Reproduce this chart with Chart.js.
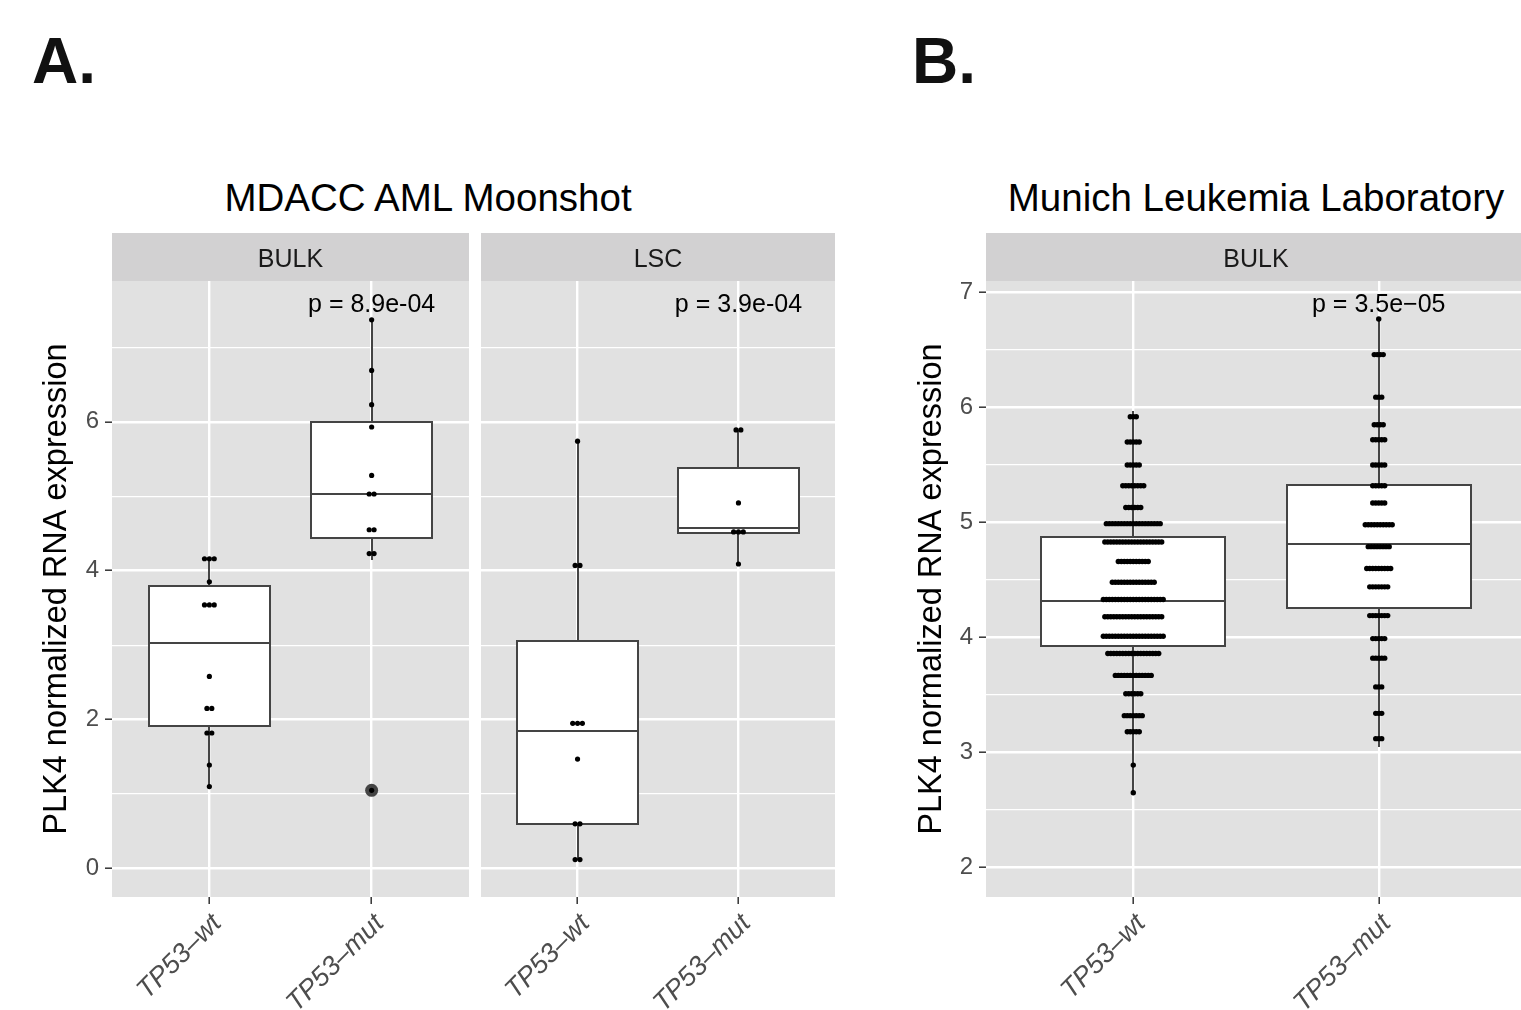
<!DOCTYPE html>
<html>
<head>
<meta charset="utf-8">
<script src="https://cdn.jsdelivr.net/npm/chart.js@4.4.1/dist/chart.umd.min.js"></script>
<style>
  html, body { margin: 0; padding: 0; background: #fff; }
  body { width: 1521px; height: 1010px; position: relative; overflow: hidden;
         font-family: "Liberation Sans", Arial, sans-serif; }
  .tag { position: absolute; font-weight: bold; font-size: 64px; line-height: 64px; color: #111; }
  .title { position: absolute; font-size: 38.5px; line-height: 38.5px; color: #000;
           white-space: nowrap; transform: translateX(-50%); }
  canvas { position: absolute; }
</style>
</head>
<body>
<div class="tag" style="left:32px;top:29px">A.</div>
<div class="tag" style="left:912px;top:29px">B.</div>
<div class="title" style="left:428px;top:179px">MDACC AML Moonshot</div>
<div class="title" style="left:1256px;top:179px">Munich Leukemia Laboratory</div>
<canvas id="bulkA" width="470" height="777" style="left:0;top:233px"></canvas>
<canvas id="lscA" width="366" height="777" style="left:470px;top:233px"></canvas>
<canvas id="bulkB" width="687" height="777" style="left:840px;top:233px"></canvas>

<script>
const groups = ['TP53–wt', 'TP53–mut'];

// dot rows: [value, number of dots in the row]
const bulkWtDots  = [[4.16, 3], [3.85, 1], [3.54, 3], [2.58, 1], [2.15, 2], [1.82, 2], [1.39, 1], [1.10, 1]];
const bulkMutDots = [[7.37, 1], [6.69, 1], [6.23, 1], [5.93, 1], [5.28, 1], [5.03, 2], [4.55, 2], [4.23, 2], [1.05, 1]];
const lscWtDots   = [[5.74, 1], [4.07, 2], [1.95, 3], [1.47, 1], [0.60, 2], [0.12, 2]];
const lscMutDots  = [[5.89, 2], [4.91, 1], [4.52, 3], [4.09, 1]];
const mllWtDots   = [[5.92, 3], [5.70, 5], [5.50, 5], [5.32, 8], [5.13, 6], [4.99, 19], [4.83, 20], [4.66, 11],
                     [4.48, 15], [4.33, 21], [4.18, 20], [4.01, 21], [3.86, 18], [3.67, 13], [3.51, 6], [3.32, 7],
                     [3.18, 5], [2.89, 1], [2.65, 1]];
const mllMutDots  = [[6.77, 1], [6.46, 4], [6.09, 3], [5.85, 4], [5.72, 5], [5.50, 5], [5.32, 5], [5.17, 5],
                     [4.98, 10], [4.79, 8], [4.60, 9], [4.44, 7], [4.19, 7], [3.99, 5], [3.82, 5], [3.57, 3],
                     [3.34, 3], [3.12, 3]];

// box stats: [lower whisker, q1, median, q3, upper whisker]
const bulkWtBox  = [1.10, 1.92, 3.03, 3.80, 4.16];
const bulkMutBox = [4.15, 4.44, 5.03, 6.00, 7.37];
const lscWtBox   = [0.12, 0.60, 1.84, 3.06, 5.74];
const lscMutBox  = [4.09, 4.51, 4.57, 5.38, 5.89];
const mllWtBox   = [2.63, 3.93, 4.32, 4.87, 5.97];
const mllMutBox  = [3.05, 4.26, 4.81, 5.33, 6.77];

const bulkMutOutliers = [1.05];

const pBulkA = 'p = 8.9e-04';
const pLscA  = 'p = 3.9e-04';
const pBulkB = 'p = 3.5e−05';

const yTicksA = [0, 1, 2, 3, 4, 5, 6, 7];
const yTicksB = [2, 2.5, 3, 3.5, 4, 4.5, 5, 5.5, 6, 6.5, 7];

Chart.defaults.font.family = '"Liberation Sans", Arial, sans-serif';
Chart.defaults.animation = false;

function panelPlugin(cfg) {
    return {
        id: 'panel_' + cfg.id,
        beforeDraw(chart) {
            const {ctx, chartArea: a} = chart;
            ctx.save();
            ctx.fillStyle = '#e1e1e1';
            ctx.fillRect(a.left, a.top, a.right - a.left, a.bottom - a.top);
            // facet strip
            ctx.fillStyle = '#d2d1d2';
            ctx.fillRect(a.left, a.top - 48, a.right - a.left, 48);
            ctx.fillStyle = '#1a1a1a';
            ctx.font = '25px "Liberation Sans", Arial, sans-serif';
            ctx.textAlign = 'center';
            ctx.textBaseline = 'alphabetic';
            ctx.fillText(cfg.strip, (a.left + a.right) / 2, a.top - 14.5);
            ctx.restore();
        },
        beforeDatasetsDraw(chart) {
            const {ctx} = chart;
            const x = chart.scales.x, y = chart.scales.y;
            const px = v => Math.round(x.getPixelForValue(v));
            const py = v => Math.round(y.getPixelForValue(v));
            ctx.save();
            ctx.strokeStyle = '#444';
            ctx.lineWidth = 2;
            cfg.boxes.forEach((b, i) => {
                const [lo, q1, med, q3, hi] = b;
                const cx = px(i + 1);
                const l = px(i + 1 - 0.375);
                const r = px(i + 1 + 0.375);
                const top = py(q3), bot = py(q1);
                ctx.beginPath();
                ctx.moveTo(cx, py(hi));
                ctx.lineTo(cx, top);
                ctx.moveTo(cx, bot);
                ctx.lineTo(cx, py(lo));
                ctx.stroke();
                ctx.fillStyle = '#fff';
                ctx.fillRect(l, top, r - l, bot - top);
                ctx.strokeRect(l, top, r - l, bot - top);
                const m = py(med);
                ctx.beginPath();
                ctx.moveTo(l, m);
                ctx.lineTo(r, m);
                ctx.stroke();
            });
            ctx.restore();
        },
        afterDatasetsDraw(chart) {
            const {ctx, chartArea: a} = chart;
            ctx.save();
            ctx.fillStyle = '#000';
            ctx.font = '25px "Liberation Sans", Arial, sans-serif';
            ctx.textAlign = 'center';
            ctx.textBaseline = 'alphabetic';
            ctx.fillText(cfg.pLabel, chart.scales.x.getPixelForValue(2), a.top + 31);
            ctx.restore();
        }
    };
}

function makePanel(cfg) {
    const points = [];
    cfg.dots.forEach((rows, g) => rows.forEach(([v, n]) => {
        for (let k = 0; k < n; k++) {
            points.push({x: g + 1 + (k - (n - 1) / 2) * cfg.dotStep, y: v});
        }
    }));
    const outliers = [];
    cfg.outliers.forEach((vals, g) => vals.forEach(v => outliers.push({x: g + 1, y: v})));

    const isMajor = v => Math.abs(v / cfg.major - Math.round(v / cfg.major)) < 1e-6;

    new Chart(document.getElementById(cfg.id), {
        type: 'scatter',
        data: {
            datasets: [
                {data: points, pointRadius: cfg.dotRadius, backgroundColor: '#000', borderWidth: 0},
                {data: outliers, pointRadius: 6.5, backgroundColor: '#444', borderWidth: 0}
            ]
        },
        options: {
            responsive: false,
            events: [],
            layout: {autoPadding: false, padding: {top: 48, right: 1, left: 0, bottom: 0}},
            plugins: {legend: {display: false}, tooltip: {enabled: false}},
            scales: {
                x: {
                    type: 'linear',
                    min: 0.4,
                    max: 2.6,
                    afterBuildTicks: s => { s.ticks = groups.map((g, i) => ({value: i + 1})); },
                    afterFit: s => { s.height = 113; s.paddingLeft = 0; s.paddingRight = 0; },
                    border: {display: false},
                    grid: {color: '#fff', lineWidth: 2.4, tickColor: '#333', tickLength: 7, tickWidth: 1.5},
                    ticks: {
                        callback: v => groups[v - 1],
                        minRotation: 45,
                        maxRotation: 45,
                        color: '#4d4d4d',
                        font: {size: 27, style: 'italic'},
                        padding: 4,
                        labelOffset: 8
                    }
                },
                y: {
                    type: 'linear',
                    min: cfg.yMin,
                    max: cfg.yMax,
                    afterBuildTicks: s => { s.ticks = cfg.yTicks.map(v => ({value: v})); },
                    afterFit: s => { s.width = cfg.yAxisWidth; },
                    border: {display: false},
                    grid: {
                        color: '#fff',
                        lineWidth: c => (c.tick && isMajor(c.tick.value)) ? 2.4 : 1.2,
                        tickColor: c => (c.tick && isMajor(c.tick.value)) ? '#333' : 'rgba(0,0,0,0)',
                        tickLength: 7,
                        tickWidth: 1.5,
                        drawTicks: cfg.showY
                    },
                    ticks: {
                        display: cfg.showY,
                        callback: v => isMajor(v) ? String(v) : '',
                        color: '#4d4d4d',
                        font: {size: 24},
                        padding: 6
                    },
                    title: {
                        display: cfg.showY,
                        text: 'PLK4 normalized RNA expression',
                        color: '#000',
                        font: {size: 32.5},
                        padding: {top: cfg.titlePad, bottom: 0}
                    }
                }
            }
        },
        plugins: [panelPlugin(cfg)]
    });
}

makePanel({
    id: 'bulkA', strip: 'BULK', pLabel: pBulkA,
    dots: [bulkWtDots, bulkMutDots], boxes: [bulkWtBox, bulkMutBox], outliers: [[], bulkMutOutliers],
    yMin: -0.383, yMax: 7.891, yTicks: yTicksA, major: 2,
    yAxisWidth: 112, showY: true, titlePad: 37.5, dotStep: 0.03, dotRadius: 2.6
});

makePanel({
    id: 'lscA', strip: 'LSC', pLabel: pLscA,
    dots: [lscWtDots, lscMutDots], boxes: [lscWtBox, lscMutBox], outliers: [[], []],
    yMin: -0.383, yMax: 7.891, yTicks: yTicksA, major: 2,
    yAxisWidth: 11, showY: false, titlePad: 0, dotStep: 0.03, dotRadius: 2.6
});

makePanel({
    id: 'bulkB', strip: 'BULK', pLabel: pBulkB,
    dots: [mllWtDots, mllMutDots], boxes: [mllWtBox, mllMutBox], outliers: [[], []],
    yMin: 1.743, yMax: 7.1, yTicks: yTicksB, major: 1,
    yAxisWidth: 146, showY: true, titlePad: 72.5, dotStep: 0.0122, dotRadius: 2.7
});
</script>
</body>
</html>
